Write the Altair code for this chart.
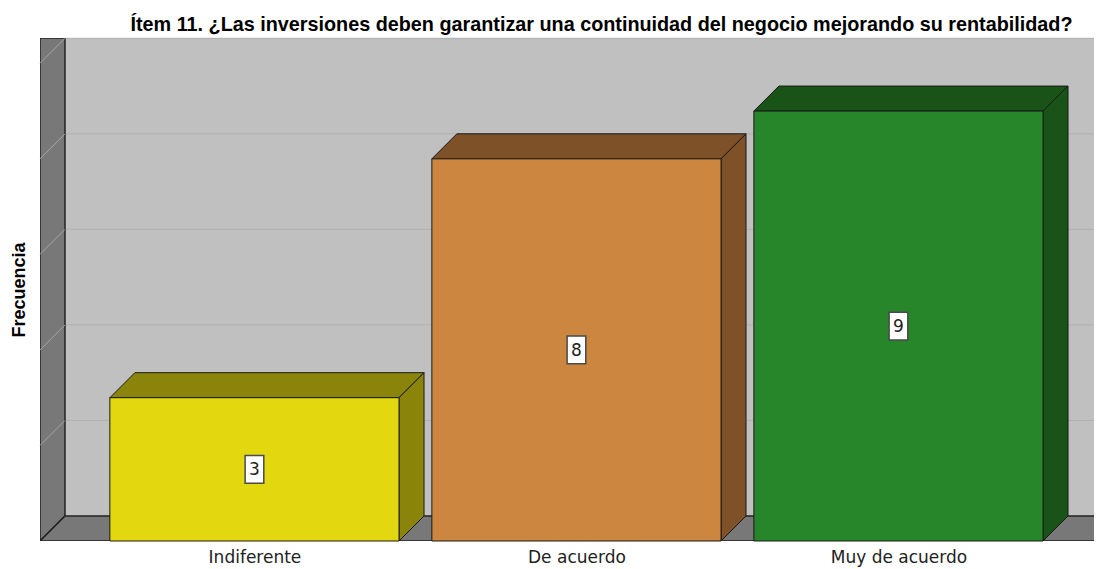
import json
import altair as alt
import pandas as pd

# ---- data ----
categories = ["Indiferente", "De acuerdo", "Muy de acuerdo"]
values = [3, 8, 9]
front_colors = ["#e3d710", "#cd863f", "#28862a"]
shade_colors = ["#8b840a", "#7e5128", "#1a5318"]
grid_values = [2, 4, 6, 8, 10]
title_text = "Ítem 11. ¿Las inversiones deben garantizar una continuidad del negocio mejorando su rentabilidad?"
y_title = "Frecuencia"

# ---- geometry in scale units ----
X_MIN = -0.666
X_MAX = X_MIN + 1054 / 322
Y_MAX = 10.53
HALF = 0.449      # half bar width
DX = 0.0776       # 3D depth (x)
DY = 0.5236       # 3D depth (y)
BOX_W = 0.029
BOX_H = 0.29

WALL = "#787878"
EDGE = "#222222"

# bars
bars = pd.DataFrame({
    "idx": list(range(len(categories))),
    "cat": categories,
    "value": values,
    "front": front_colors,
})
bars["x0"] = bars["idx"] - HALF
bars["x1"] = bars["idx"] + HALF
bars["mid"] = bars["value"] / 2
bars["bx0"] = bars["idx"] - BOX_W
bars["bx1"] = bars["idx"] + BOX_W
bars["by0"] = bars["mid"] - BOX_H
bars["by1"] = bars["mid"] + BOX_H

# bar faces (top + side), drawn as areas
face_rows = []
for i, (v, sc) in enumerate(zip(values, shade_colors)):
    x0, x1 = i - HALF, i + HALF
    f = f"top{i}"
    face_rows += [
        dict(face=f, x=x0, lo=v, hi=v, col=sc),
        dict(face=f, x=x0 + DX, lo=v, hi=v + DY, col=sc),
        dict(face=f, x=x1, lo=v, hi=v + DY, col=sc),
        dict(face=f, x=x1 + DX, lo=v + DY, hi=v + DY, col=sc),
    ]
    f = f"side{i}"
    face_rows += [
        dict(face=f, x=x1, lo=0, hi=v, col=sc),
        dict(face=f, x=x1 + DX, lo=DY, hi=v + DY, col=sc),
    ]
faces = pd.DataFrame(face_rows)

# walls (left wall + floor)
walls = pd.DataFrame([
    dict(face="left", x=X_MIN, lo=0, hi=Y_MAX, col=WALL),
    dict(face="left", x=X_MIN + DX, lo=DY, hi=Y_MAX, col=WALL),
    dict(face="floor", x=X_MIN, lo=0, hi=0, col=WALL),
    dict(face="floor", x=X_MIN + DX, lo=0, hi=DY, col=WALL),
    dict(face="floor", x=X_MAX + 0.05, lo=0, hi=DY, col=WALL),
])

grid = pd.DataFrame({"g": grid_values})
grid["gb"] = grid["g"] + DY
grid["xa"] = X_MIN
grid["xb"] = X_MIN + DX
grid["xe"] = X_MAX

# ---- scales & axes ----
xscale = alt.Scale(domain=[X_MIN, X_MAX], nice=False, zero=False)
yscale = alt.Scale(domain=[0, Y_MAX], nice=False, zero=False)
label_expr = json.dumps(categories) + "[datum.value]"
xaxis = alt.Axis(values=[0, 1, 2], labelExpr=label_expr, ticks=False, domain=False,
                 grid=False, labelFont="DejaVu Sans", labelFontSize=17,
                 labelColor="#222222", labelPadding=8, title=None,
                 labelFlush=False, labelOverlap=False)
yaxis = alt.Axis(title=y_title, labels=False, ticks=False, domain=False, grid=False,
                 titleFont="Liberation Sans", titleFontSize=18,
                 titleFontWeight="bold", titleColor="#000000", titlePadding=12)


def X(f):
    return alt.X(f"{f}:Q", scale=xscale, axis=xaxis)


def Y(f):
    return alt.Y(f"{f}:Q", scale=yscale, axis=yaxis)


back_grid = alt.Chart(grid).mark_rule(color="#b0b0b0", strokeWidth=1).encode(
    x=X("xb"), x2="xe", y=Y("gb")
)

wall_layer = alt.Chart(walls).mark_area(stroke=EDGE, strokeWidth=1.5, opacity=1, clip=True).encode(
    x=X("x"), y=Y("lo"), y2="hi", detail="face:N",
    fill=alt.Fill("col:N", scale=None),
)

left_diag = alt.Chart(grid).mark_rule(color="#a6a6a6", strokeWidth=1).encode(
    x=X("xa"), x2="xb", y=Y("g"), y2="gb"
)

face_layer = alt.Chart(faces).mark_area(stroke="#1a1a1a", strokeWidth=1, opacity=1).encode(
    x=X("x"), y=Y("lo"), y2="hi", detail="face:N",
    fill=alt.Fill("col:N", scale=None),
)

front_layer = alt.Chart(bars).mark_rect(stroke="#1a1a1a", strokeWidth=1).encode(
    x=X("x0"), x2="x1", y=Y("value"), y2=alt.datum(0),
    fill=alt.Fill("front:N", scale=None),
)

box_layer = alt.Chart(bars).mark_rect(fill="white", stroke="#4a4a4a", strokeWidth=1.5).encode(
    x=X("bx0"), x2="bx1", y=Y("by0"), y2="by1"
)

text_layer = alt.Chart(bars).mark_text(font="DejaVu Sans", fontSize=17, color="#222222",
                                      baseline="middle", align="center", dy=1).encode(
    x=X("idx"), y=Y("mid"), text="value:Q"
)

chart = alt.layer(
    back_grid, wall_layer, left_diag, face_layer, front_layer, box_layer, text_layer
).properties(
    width=1054,
    height=503,
    title=alt.TitleParams(title_text, font="Liberation Sans", fontSize=19.8,
                          fontWeight="bold", color="#000000", anchor="middle",
                          dx=34.5, offset=3),
    autosize=alt.AutoSizeParams(type="none"),
    padding={"left": 32, "top": 30, "right": 0, "bottom": 28},
).configure_view(fill="#c0c0c0", stroke=None)

chart.save("out.html", embed_options={"renderer": "svg", "actions": False})
